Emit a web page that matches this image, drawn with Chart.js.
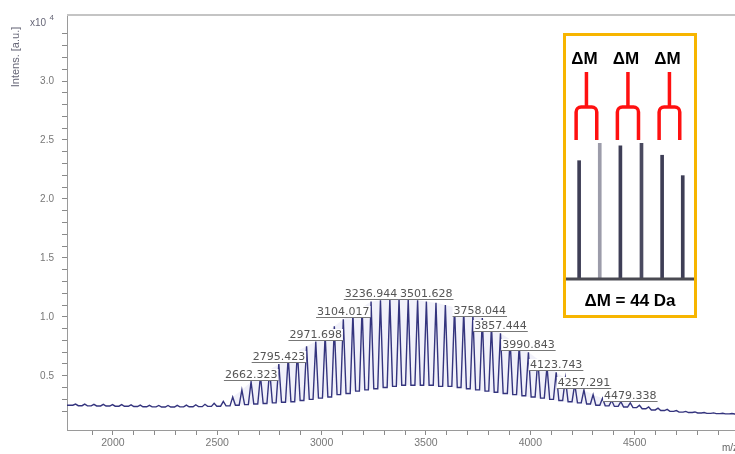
<!DOCTYPE html>
<html>
<head>
<meta charset="utf-8">
<script src="https://cdn.jsdelivr.net/npm/chart.js@4.4.1/dist/chart.umd.min.js"></script>
<style>
  html, body { margin:0; padding:0; background:#fff; overflow:hidden; width:735px; height:454px; }
  #wrap { position:relative; width:745px; height:454px; }
  #main { position:absolute; left:0; top:0; }
  #inset { position:absolute; left:563px; top:33px; width:128px; height:279px; border:3px solid #F7B500; background:#fff; }
  #insetCanvas { position:absolute; left:0; top:0; }
</style>
</head>
<body>
<div id="wrap">
  <canvas id="main" width="745" height="454"></canvas>
  <div id="inset"><canvas id="insetCanvas" width="128" height="279"></canvas></div>
</div>
<script>
// ---- Spectrum data (m/z, intensity x10^4 a.u.) ----
const peakMz = [
  1821, 1865, 1909, 1954, 1998, 2042, 2087, 2131, 2175, 2220, 2264, 2308, 2352, 2397, 2441, 2485, 2529,
  2574, 2618, 2662, 2707, 2751, 2795, 2840, 2884, 2928, 2972,
  3017, 3061, 3104, 3150, 3194, 3237, 3282, 3327, 3371, 3415,
  3460, 3502, 3548, 3593, 3637, 3681, 3725, 3770, 3814, 3857,
  3903, 3947, 3991, 4036, 4080, 4124, 4168, 4213, 4257, 4301,
  4346, 4390, 4434, 4479, 4523, 4567, 4612, 4656, 4700, 4745,
  4789, 4833, 4878, 4922, 4966
];
const peakInt = [
  0.260, 0.259, 0.258, 0.257, 0.256, 0.255, 0.253, 0.251, 0.249, 0.248, 0.248, 0.249, 0.251, 0.254, 0.258, 0.266, 0.282,
  0.32, 0.38, 0.45, 0.50, 0.55, 0.60, 0.66, 0.71, 0.75, 0.79,
  0.85, 0.92, 0.98, 1.03, 1.08, 1.13, 1.14, 1.15, 1.15, 1.15,
  1.14, 1.13, 1.12, 1.10, 1.08, 1.05, 1.02, 0.99, 0.93, 0.86,
  0.81, 0.76, 0.70, 0.64, 0.58, 0.53, 0.48, 0.43, 0.38, 0.34,
  0.31, 0.29, 0.28, 0.27, 0.25, 0.235, 0.225, 0.215, 0.205, 0.198,
  0.193, 0.188, 0.185, 0.182, 0.180
];
// valley level following each peak; the first entry is the level at the left edge
const valleyInt = [
  0.250,
  0.246, 0.245, 0.244, 0.243, 0.242, 0.241, 0.239, 0.237, 0.236, 0.235, 0.235, 0.236, 0.237, 0.238, 0.240, 0.242, 0.245,
  0.25, 0.255, 0.26, 0.265, 0.27, 0.275, 0.28, 0.29, 0.30, 0.31,
  0.32, 0.34, 0.35, 0.37, 0.38, 0.39, 0.40, 0.41, 0.42, 0.42,
  0.42, 0.42, 0.41, 0.41, 0.40, 0.39, 0.38, 0.37, 0.36, 0.35,
  0.34, 0.33, 0.32, 0.31, 0.30, 0.29, 0.28, 0.27, 0.26, 0.25,
  0.245, 0.24, 0.235, 0.23, 0.22, 0.21, 0.205, 0.198, 0.192, 0.188,
  0.184, 0.181, 0.179, 0.177, 0.176
];
const mzStart = 1780, mzEnd = 5000;
// Peak annotations
const peakLabels = ["2662.323", "2795.423", "2971.698", "3104.017", "3236.944", "3501.628",
                    "3758.044", "3857.444", "3990.843", "4123.743", "4257.291", "4479.338"];
// Axis tick labels
const xTickLabels = [2000, 2500, 3000, 3500, 4000, 4500];
const yTickLabels = [0.5, 1.0, 1.5, 2.0, 2.5, 3.0];

// Inset: zoomed section of the series (relative intensities)
const insetMz  = [3327, 3371, 3415, 3460, 3504, 3548];
const insetInt = [0.87, 1.00, 0.98, 1.00, 0.91, 0.76];
const insetPairs = [[0, 1], [2, 3], [4, 5]];
const insetPairLabel = "ΔM";
const insetCaption = "ΔM = 44 Da";

// ---------------- build line series from the peak table ----------------
const HALF_WIDTH = 13; // Da, drawing width of each peak flank
const spectrum = [{ x: mzStart, y: valleyInt[0] }];
peakMz.forEach((m, i) => {
  spectrum.push({ x: m - HALF_WIDTH, y: valleyInt[i] });
  spectrum.push({ x: m, y: peakInt[i] });
  spectrum.push({ x: m + HALF_WIDTH, y: valleyInt[i + 1] });
});
spectrum.push({ x: mzEnd, y: valleyInt[valleyInt.length - 1] });

// light tint between valleys and peak tops in the dense cluster region
const tintIdx = peakMz.map((m, i) => i).filter(i => peakMz[i] >= 2574 && peakMz[i] <= 4480);
const envTop = tintIdx.map(i => ({ x: peakMz[i], y: peakInt[i] }));
const envBottom = tintIdx.map(i => ({ x: peakMz[i], y: valleyInt[i + 1] }));

function near(a, b, eps) { return Math.abs(a - b) < eps; }

const mainDecor = {
  id: 'mainDecor',
  afterDatasetsDraw(chart) {
    const ctx = chart.ctx, xs = chart.scales.x, ys = chart.scales.y, ca = chart.chartArea;
    ctx.save();
    // top frame line
    ctx.strokeStyle = '#c4c4c4';
    ctx.lineWidth = 2;
    ctx.beginPath(); ctx.moveTo(ca.left, ca.top); ctx.lineTo(ca.right + 10, ca.top); ctx.stroke();

    // peak labels
    ctx.font = '11px "DejaVu Sans"';
    ctx.textAlign = 'center';
    ctx.textBaseline = 'alphabetic';
    peakLabels.forEach(txt => {
      const mz = parseFloat(txt);
      let h = 0;
      peakMz.forEach((m, i) => { if (Math.abs(m - mz) <= 20 && peakInt[i] > h) h = peakInt[i]; });
      const x = xs.getPixelForValue(mz);
      const yl = Math.round(ys.getPixelForValue(h)) - 2;
      const w = ctx.measureText(txt).width;
      ctx.fillStyle = '#fff';
      ctx.fillRect(x - w / 2 - 1, yl - 11, w + 2, 11);
      ctx.fillStyle = '#555';
      ctx.fillText(txt, x, yl - 2);
      ctx.strokeStyle = '#777';
      ctx.lineWidth = 1;
      ctx.beginPath(); ctx.moveTo(x - w / 2 - 1, yl + 0.5); ctx.lineTo(x + w / 2 + 1, yl + 0.5); ctx.stroke();
    });

    // y axis title (rotated)
    ctx.fillStyle = '#667';
    ctx.font = '11px "Liberation Sans"';
    ctx.save();
    ctx.translate(16, 57);
    ctx.rotate(-Math.PI / 2);
    ctx.textAlign = 'center';
    ctx.textBaseline = 'middle';
    ctx.fillText('Intens. [a.u.]', 0, 0);
    ctx.restore();
    // multiplier
    ctx.textAlign = 'left';
    ctx.textBaseline = 'alphabetic';
    ctx.font = '10px "Liberation Sans"';
    ctx.fillText('x10', 30, 26);
    ctx.font = '8px "Liberation Sans"';
    ctx.fillText('4', 49.5, 20);
    // x axis title
    ctx.font = '10px "Liberation Sans"';
    ctx.fillStyle = '#666';
    ctx.fillText('m/z', 722, 451);
    ctx.restore();
  }
};

new Chart(document.getElementById('main'), {
  type: 'line',
  data: {
    datasets: [
      { data: spectrum, borderColor: '#34347e', borderWidth: 1.4, pointRadius: 0, tension: 0, fill: false },
      { data: envTop, borderWidth: 0, borderColor: 'rgba(0,0,0,0)', pointRadius: 0, tension: 0,
        fill: { target: 2 }, backgroundColor: 'rgba(140,140,210,0.12)' },
      { data: envBottom, borderWidth: 0, borderColor: 'rgba(0,0,0,0)', pointRadius: 0, tension: 0, fill: false }
    ]
  },
  options: {
    responsive: false,
    animation: false,
    devicePixelRatio: 1,
    layout: { padding: { top: 15, left: 0, right: 6, bottom: 0 } },
    plugins: { legend: { display: false }, tooltip: { enabled: false } },
    scales: {
      x: {
        type: 'linear', min: mzStart, max: mzEnd,
        afterBuildTicks: s => { s.ticks = s.ticks.filter(t => near(t.value / 100, Math.round(t.value / 100), 1e-6)); },
        afterFit: s => { s.height = 24; },
        ticks: {
          stepSize: 100, autoSkip: false, maxRotation: 0, padding: 2,
          color: '#777', font: { family: 'Liberation Sans', size: 10.5 },
          callback: v => xTickLabels.includes(Math.round(v)) && near(v, Math.round(v), 1e-6) ? String(Math.round(v)) : ''
        },
        grid: { drawOnChartArea: false, tickLength: 5, color: '#8a8a8a' },
        border: { color: '#9a9a9a', width: 1 }
      },
      y: {
        min: 0.04, max: 3.56,
        afterBuildTicks: s => { s.ticks = s.ticks.filter(t => near(t.value * 10, Math.round(t.value * 10), 1e-6)); },
        afterFit: s => { s.width = 67; },
        ticks: {
          stepSize: 0.1, autoSkip: false, padding: 8,
          color: '#777', font: { family: 'Liberation Sans', size: 10 },
          callback: v => { const l = yTickLabels.find(t => near(t, v, 1e-6)); return l !== undefined ? l.toFixed(1) : ''; }
        },
        grid: { drawOnChartArea: false, tickLength: 5, color: '#8a8a8a' },
        border: { color: '#9a9a9a', width: 1 }
      }
    }
  },
  plugins: [mainDecor]
});

// ---------------- inset chart ----------------
const insetDecor = {
  id: 'insetDecor',
  afterDatasetsDraw(chart) {
    const ctx = chart.ctx, xs = chart.scales.x, ca = chart.chartArea;
    ctx.save();
    // baseline
    ctx.strokeStyle = '#4a4a52';
    ctx.lineWidth = 3;
    ctx.beginPath(); ctx.moveTo(0, ca.bottom); ctx.lineTo(chart.width, ca.bottom); ctx.stroke();
    // brackets + labels
    ctx.font = 'bold 17px "Liberation Sans"';
    ctx.textAlign = 'center';
    ctx.textBaseline = 'alphabetic';
    insetPairs.forEach(([a, b]) => {
      const xa = xs.getPixelForValue(insetMz[a]) - 3;
      const xb = xs.getPixelForValue(insetMz[b]) - 3;
      const xm = (xa + xb) / 2;
      const yTop = 36, yBar = 71, yLeg = 104, r = 5;
      ctx.strokeStyle = '#ff1010';
      ctx.lineWidth = 3.5;
      ctx.lineJoin = 'round';
      ctx.beginPath();
      ctx.moveTo(xm, yTop); ctx.lineTo(xm, yBar);
      ctx.stroke();
      ctx.beginPath();
      ctx.moveTo(xa, yLeg);
      ctx.arcTo(xa, yBar, xm, yBar, r);
      ctx.arcTo(xb, yBar, xb, yLeg, r);
      ctx.lineTo(xb, yLeg);
      ctx.stroke();
      ctx.fillStyle = '#000';
      ctx.fillText(insetPairLabel, xm - 2, 28);
    });
    ctx.fillStyle = '#000';
    ctx.fillText(insetCaption, chart.width / 2, 270);
    ctx.restore();
  }
};

new Chart(document.getElementById('insetCanvas'), {
  type: 'bar',
  data: {
    datasets: [{
      data: insetMz.map((m, i) => ({ x: m, y: insetInt[i] })),
      backgroundColor: ['#3e3e56', '#9c9caa', '#3e3e56', '#4a4a60', '#3e3e56', '#3e3e56'],
      barThickness: 3,
      borderWidth: 0
    }]
  },
  options: {
    responsive: false,
    animation: false,
    devicePixelRatio: 1,
    layout: { padding: { top: 107, left: 0, right: 0, bottom: 36 } },
    plugins: { legend: { display: false }, tooltip: { enabled: false } },
    scales: {
      x: { type: 'linear', min: 3299, max: 3572, display: false, offset: false, grid: { offset: false } },
      y: { min: 0, max: 1.0, display: false }
    }
  },
  plugins: [insetDecor]
});
</script>
</body>
</html>
